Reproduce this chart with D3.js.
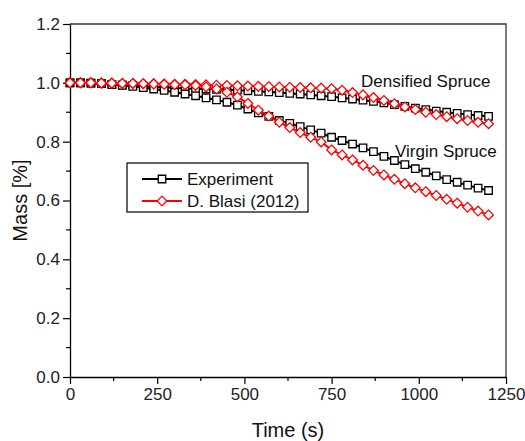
<!DOCTYPE html>
<html>
<head>
<meta charset="utf-8">
<script src="https://cdn.jsdelivr.net/npm/d3@7"></script>
<style>
  body { margin: 0; background: #fff; }
  svg { font-family: "Liberation Sans", Arial, sans-serif; }
</style>
</head>
<body>
<div id="chart"></div>
<script>
const width = 525, height = 441;
const margin = {top: 24, right: 19, bottom: 64, left: 70};

// time points (s), one every 30 s
const time = [0,30,60,90,120,150,180,210,240,270,300,330,360,390,420,450,480,510,540,570,600,
  630,660,690,720,750,780,810,840,870,900,930,960,990,1020,1050,1080,1110,1140,1170,1200];

const expVirgin = [1.0,1.0,0.999,0.997,0.994,0.991,0.988,0.984,0.979,0.974,0.968,0.962,0.956,0.949,0.942,0.934,0.924,0.911,0.898,0.886,0.872,
  0.862,0.851,0.840,0.829,0.815,0.804,0.792,0.779,0.766,0.750,0.736,0.722,0.708,0.696,0.684,0.671,0.662,0.652,0.642,0.634];
const expDensified = [1.0,1.0,0.999,0.997,0.995,0.993,0.991,0.989,0.987,0.985,0.983,0.981,0.980,0.979,0.978,0.977,0.975,0.973,0.971,0.969,0.967,
  0.964,0.962,0.959,0.956,0.953,0.949,0.945,0.941,0.937,0.932,0.926,0.920,0.914,0.909,0.904,0.900,0.896,0.892,0.889,0.886];
const blasiVirgin = [1.0,1.0,1.0,0.999,0.999,0.998,0.998,0.997,0.996,0.995,0.994,0.993,0.991,0.986,0.979,0.968,0.952,0.930,0.907,0.887,0.866,
  0.848,0.831,0.815,0.799,0.772,0.755,0.738,0.720,0.702,0.687,0.672,0.657,0.643,0.630,0.617,0.604,0.591,0.577,0.564,0.551];
const blasiDensified = [1.0,1.0,1.0,0.999,0.999,0.998,0.998,0.997,0.997,0.996,0.995,0.995,0.994,0.993,0.992,0.991,0.990,0.989,0.988,0.987,0.986,
  0.985,0.984,0.983,0.982,0.980,0.975,0.967,0.959,0.950,0.940,0.929,0.918,0.909,0.900,0.892,0.885,0.878,0.872,0.866,0.861];

const xTicks = [0,250,500,750,1000,1250];
const yTicks = [0,0.2,0.4,0.6,0.8,1.0,1.2];

const svg = d3.select('#chart').append('svg')
  .attr('width', width)
  .attr('height', height);

const x = d3.scaleLinear().domain([0,1250]).range([margin.left, width - margin.right]);
const y = d3.scaleLinear().domain([0,1.2]).range([height - margin.bottom, margin.top]);

// frame top/right
svg.append('path')
  .attr('d', `M${x(0)},${y(1.2)}H${x(1250)}V${y(0)}`)
  .attr('fill', 'none').attr('stroke', '#333').attr('stroke-width', 1.3);

// minor ticks
const xMinor = d3.range(125, 1250, 250);
const yMinor = d3.range(0.1, 1.2, 0.2);
svg.append('g').selectAll('line').data(xMinor).join('line')
  .attr('x1', d => x(d)).attr('x2', d => x(d))
  .attr('y1', y(0)).attr('y2', y(0) + 4)
  .attr('stroke', '#000').attr('stroke-width', 1.2);
svg.append('g').selectAll('line').data(yMinor).join('line')
  .attr('x1', x(0) - 4).attr('x2', x(0))
  .attr('y1', d => y(d)).attr('y2', d => y(d))
  .attr('stroke', '#000').attr('stroke-width', 1.2);

const xAxis = svg.append('g')
  .attr('transform', `translate(0,${y(0)})`)
  .call(d3.axisBottom(x).tickValues(xTicks).tickFormat(d3.format('d')).tickSize(7).tickPadding(4).tickSizeOuter(0));
const yAxis = svg.append('g')
  .attr('transform', `translate(${x(0)},0)`)
  .call(d3.axisLeft(y).tickValues(yTicks).tickFormat(d3.format('.1f')).tickSize(7).tickPadding(3).tickSizeOuter(0));

[xAxis, yAxis].forEach(a => {
  a.select('.domain').attr('stroke', '#000').attr('stroke-width', 1.3);
  a.selectAll('.tick line').attr('stroke', '#000').attr('stroke-width', 1.2);
  a.selectAll('.tick text').attr('font-size', 17).attr('fill', '#222')
    .attr('font-family', '"Liberation Sans", Arial, sans-serif');
});

svg.append('text')
  .attr('x', (x(0) + x(1250)) / 2).attr('y', 437)
  .attr('text-anchor', 'middle').attr('font-size', 20).attr('fill', '#111')
  .text('Time (s)');
svg.append('text')
  .attr('transform', `translate(27,${(y(0) + y(1.2)) / 2}) rotate(-90)`)
  .attr('text-anchor', 'middle').attr('font-size', 20).attr('fill', '#111')
  .text('Mass [%]');

const line = d3.line().x(d => x(d[0])).y(d => y(d[1]));

function drawSeries(vals, color, shape) {
  const pts = time.map((t, i) => [t, vals[i]]);
  svg.append('path').datum(pts)
    .attr('d', line).attr('fill', 'none')
    .attr('stroke', color).attr('stroke-width', 2);
  const sym = d3.symbol().type(shape === 'square' ? d3.symbolSquare : d3.symbolDiamond2)
    .size(shape === 'square' ? 56 : 60);
  svg.append('g').selectAll('path').data(pts).join('path')
    .attr('transform', d => `translate(${x(d[0])},${y(d[1])})`)
    .attr('d', sym)
    .attr('fill', '#fff').attr('stroke', color).attr('stroke-width', 1.3);
}

drawSeries(expDensified, '#000', 'square');
drawSeries(expVirgin, '#000', 'square');
drawSeries(blasiDensified, '#ff0000', 'diamond');
drawSeries(blasiVirgin, '#ff0000', 'diamond');

// annotations
svg.append('text').attr('x', 361).attr('y', 87).attr('font-size', 17).attr('fill', '#111')
  .text('Densified Spruce');
svg.append('text').attr('x', 395).attr('y', 157).attr('font-size', 17).attr('fill', '#111')
  .text('Virgin Spruce');

// legend
const lg = svg.append('g');
lg.append('rect').attr('x', 127).attr('y', 163).attr('width', 181).attr('height', 49)
  .attr('fill', '#fff').attr('stroke', '#000').attr('stroke-width', 1.2);
const legendItems = [
  {label: 'Experiment', color: '#000', shape: 'square', yy: 179},
  {label: 'D. Blasi (2012)', color: '#ff0000', shape: 'diamond', yy: 201}
];
legendItems.forEach(it => {
  lg.append('line').attr('x1', 142).attr('x2', 182).attr('y1', it.yy).attr('y2', it.yy)
    .attr('stroke', it.color).attr('stroke-width', 2);
  lg.append('path')
    .attr('transform', `translate(162,${it.yy})`)
    .attr('d', d3.symbol().type(it.shape === 'square' ? d3.symbolSquare : d3.symbolDiamond2)
      .size(it.shape === 'square' ? 56 : 60)())
    .attr('fill', '#fff').attr('stroke', it.color).attr('stroke-width', 1.3);
  lg.append('text').attr('x', 187).attr('y', it.yy + 6).attr('font-size', 17).attr('fill', '#111')
    .text(it.label);
});
</script>
</body>
</html>
